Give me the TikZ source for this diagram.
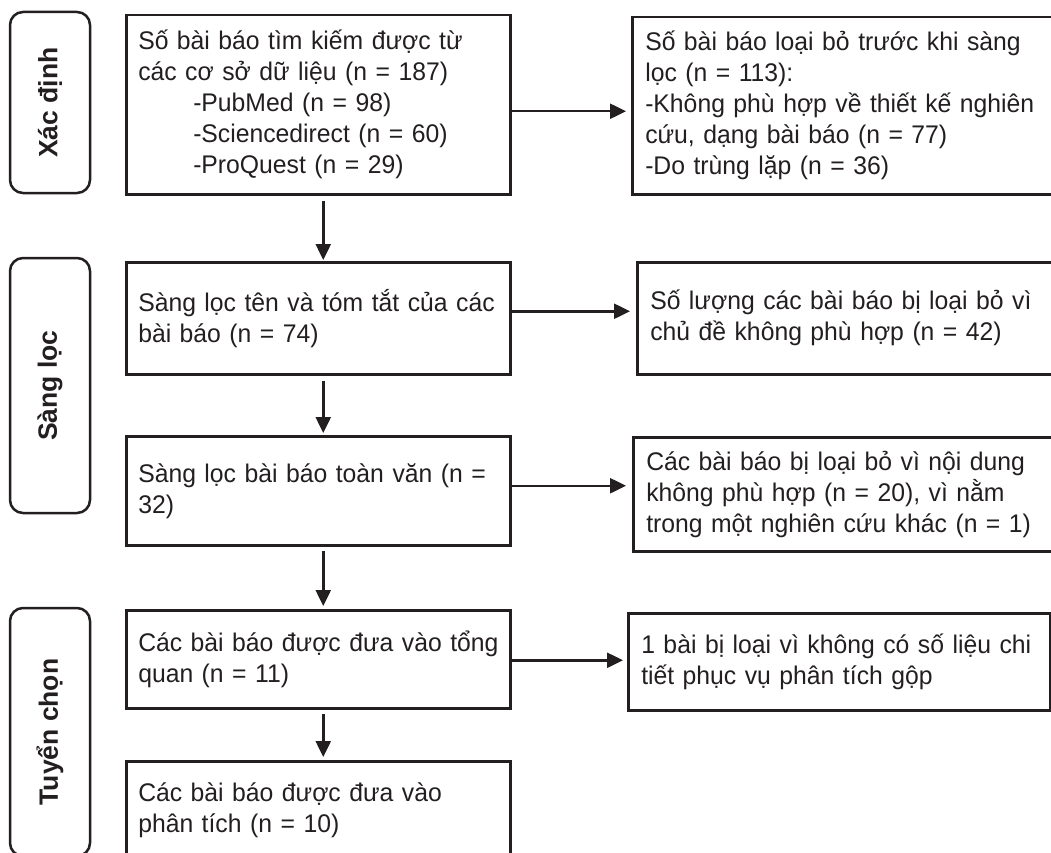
\documentclass[tikz,border=0pt]{standalone}
\usepackage{fontspec}
\setmainfont{Liberation Sans}[FakeStretch=0.97]
\newfontfamily\lblfont{Liberation Sans}
\usetikzlibrary{arrows.meta}
\definecolor{ink}{HTML}{231F20}
\newcommand\tline[1]{\mbox{#1}}
\tikzset{
  stagebox/.style={draw=ink, line width=2.5pt, rounded corners=13pt, rotate=90,
    minimum height=80pt, inner sep=0pt, text=ink,
    font=\lblfont\fontsize{26.5pt}{31pt}\selectfont\bfseries},
  mainbox/.style={draw=ink, line width=2.5pt, anchor=north west, align=left,
    inner xsep=12pt, inner ysep=0pt, text=ink, text width=360pt,
    font=\fontsize{25.5pt}{31pt}\selectfont},
  sidebox/.style={draw=ink, line width=2.5pt, anchor=north west, align=left,
    inner xsep=13pt, inner ysep=0pt, text=ink,
    font=\fontsize{25.5pt}{31pt}\selectfont},
  arr/.style={draw=ink, line width=2.5pt, -{Triangle[length=16pt,width=15pt]}},
}
\begin{document}
\begin{tikzpicture}[x=1pt,y=-1pt]
\useasboundingbox (0,0) rectangle (1051,853);
\clip (0,0) rectangle (1051,853);
\fill[white] (0,0) rectangle (1051,853);

% stage labels
\node[stagebox, minimum width=181pt] (s1) at (50,102.5) {Xác định};
\node[stagebox, minimum width=255pt] (s2) at (50,385.5) {Sàng lọc};
\node[stagebox, minimum width=248pt] (s3) at (50,732) {Tuyển chọn};

% main column
\node[mainbox, minimum height=179pt] (b1) at (125,14) {%
\makebox[362pt][s]{Số bài báo tìm kiếm được từ}\\
\tline{các cơ sở dữ liệu (n = 187)}\\
\hspace*{55pt}\tline{-PubMed (n = 98)}\\
\hspace*{55pt}\tline{-Sciencedirect (n = 60)}\\
\hspace*{55pt}\tline{-ProQuest (n = 29)}};
\node[mainbox, minimum height=112pt] (b2) at (125,261) {%
\tline{Sàng lọc tên và tóm tắt của các}\\
\tline{bài báo (n = 74)}};
\node[mainbox, minimum height=109pt] (b3) at (125,435) {%
\tline{Sàng lọc bài báo toàn văn (n =}\\
32)};
\node[mainbox, minimum height=98pt] (b4) at (125,609) {%
\tline{Các bài báo được đưa vào tổng}\\
\tline{quan (n = 11)}};
\node[mainbox, minimum height=98pt] (b5) at (125,760) {%
\makebox[360pt][s]{Các bài báo được đưa vào}\\
\tline{phân tích (n = 10)}};

% side column
\node[sidebox, minimum height=177pt, text width=414pt] (r1) at (631,16) {%
\makebox[398pt][s]{Số bài báo loại bỏ trước khi sàng}\\
\tline{lọc (n = 113):}\\
\makebox[398pt][s]{-Không phù hợp về thiết kế nghiên}\\
\tline{cứu, dạng bài báo (n = 77)}\\
\tline{-Do trùng lặp (n = 36)}};
\node[sidebox, minimum height=112pt, text width=414pt] (r2) at (636,261) {%
\makebox[397pt][s]{Số lượng các bài báo bị loại bỏ vì}\\
\tline{chủ đề không phù hợp (n = 42)}};
\node[sidebox, minimum height=114pt, text width=414pt] (r3) at (632,436) {%
\makebox[396pt][s]{Các bài báo bị loại bỏ vì nội dung}\\
\makebox[396pt][s]{không phù hợp (n = 20), vì nằm}\\
\tline{trong một nghiên cứu khác (n = 1)}};
\node[sidebox, minimum height=97pt, text width=396pt] (r4) at (627,612) {%
\tline{1 bài bị loại vì không có số liệu chi}\\
\tline{tiết phục vụ phân tích gộp}};

% vertical arrows
\draw[arr, shorten <=5pt, shorten >=1pt] ([xshift=5pt]b1.south) -- ([xshift=5pt]b2.north);
\draw[arr, shorten <=5pt, shorten >=2pt] ([xshift=5pt]b2.south) -- ([xshift=5pt]b3.north);
\draw[arr, shorten <=4pt, shorten >=3pt] ([xshift=5pt]b3.south) -- ([xshift=5pt]b4.north);
\draw[arr, shorten <=4pt, shorten >=3pt] ([xshift=5pt]b4.south) -- ([xshift=5pt]b5.north);

% horizontal arrows
\draw[arr, shorten >=5pt] ([yshift=-6.5pt]b1.east) -- ([yshift=-6.5pt]b1.east -| r1.west);
\draw[arr, shorten >=6pt] ([yshift=7pt]b2.east) -- ([yshift=7pt]b2.east -| r2.west);
\draw[arr, shorten >=6pt] ([yshift=5pt]b3.east) -- ([yshift=5pt]b3.east -| r3.west);
\draw[arr, shorten >=4pt] ([yshift=-1pt]b4.east) -- ([yshift=-1pt]b4.east -| r4.west);
\end{tikzpicture}
\end{document}
